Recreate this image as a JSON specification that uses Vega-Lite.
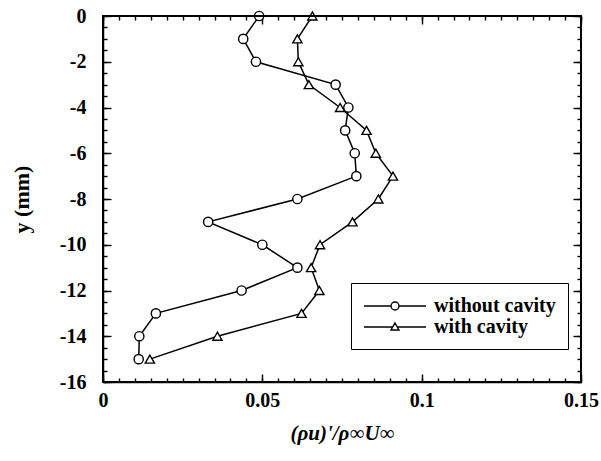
{
  "$schema": "https://vega.github.io/schema/vega-lite/v6.json",
  "width": 478,
  "height": 366,
  "autosize": {"type": "none"},
  "padding": {"left": 103, "top": 16, "right": 20, "bottom": 79},
  "background": "white",
  "config": {
    "view": {"stroke": "black", "strokeWidth": 1.5},
    "font": "Liberation Serif"
  },
  "data": {
    "values": [
      {"x": 0.049, "y": 0, "series": "without cavity"},
      {"x": 0.044, "y": -1, "series": "without cavity"},
      {"x": 0.048, "y": -2, "series": "without cavity"},
      {"x": 0.073, "y": -3, "series": "without cavity"},
      {"x": 0.077, "y": -4, "series": "without cavity"},
      {"x": 0.076, "y": -5, "series": "without cavity"},
      {"x": 0.079, "y": -6, "series": "without cavity"},
      {"x": 0.0795, "y": -7, "series": "without cavity"},
      {"x": 0.061, "y": -8, "series": "without cavity"},
      {"x": 0.033, "y": -9, "series": "without cavity"},
      {"x": 0.05, "y": -10, "series": "without cavity"},
      {"x": 0.061, "y": -11, "series": "without cavity"},
      {"x": 0.0435, "y": -12, "series": "without cavity"},
      {"x": 0.0166, "y": -13, "series": "without cavity"},
      {"x": 0.0114, "y": -14, "series": "without cavity"},
      {"x": 0.0112, "y": -15, "series": "without cavity"},
      {"x": 0.0657, "y": 0, "series": "with cavity"},
      {"x": 0.061, "y": -1, "series": "with cavity"},
      {"x": 0.0613, "y": -2, "series": "with cavity"},
      {"x": 0.0646, "y": -3, "series": "with cavity"},
      {"x": 0.0744, "y": -4, "series": "with cavity"},
      {"x": 0.0827, "y": -5, "series": "with cavity"},
      {"x": 0.0856, "y": -6, "series": "with cavity"},
      {"x": 0.091, "y": -7, "series": "with cavity"},
      {"x": 0.0864, "y": -8, "series": "with cavity"},
      {"x": 0.0783, "y": -9, "series": "with cavity"},
      {"x": 0.0681, "y": -10, "series": "with cavity"},
      {"x": 0.0653, "y": -11, "series": "with cavity"},
      {"x": 0.0679, "y": -12, "series": "with cavity"},
      {"x": 0.0623, "y": -13, "series": "with cavity"},
      {"x": 0.0359, "y": -14, "series": "with cavity"},
      {"x": 0.0147, "y": -15, "series": "with cavity"}
    ]
  },
  "layer": [
    {
      "mark": {"type": "line", "color": "black", "strokeWidth": 1.5},
      "encoding": {
        "x": {"field": "x", "type": "quantitative", "scale": {"domain": [0, 0.15], "nice": false, "zero": false},
          "axis": {"orient": "bottom", "values": [0, 0.05, 0.1, 0.15], "gridOpacity": 0, "tickSize": 0, "tickOpacity": 0, "domainColor": "black", "domainWidth": 1.5, "labelExpr": "'' + datum.value", "labelColor": "black", "labelFont": "Liberation Serif", "labelFontSize": 20, "labelFontWeight": "bold", "labelPadding": 8, "labelFlush": false,
            "title": "(ρu)'/ρ∞U∞", "titleColor": "black", "titleFont": "Liberation Serif", "titleFontSize": 21, "titleFontWeight": "bold", "titleFontStyle": "italic", "titlePadding": 12}},
        "y": {"field": "y", "type": "quantitative", "scale": {"domain": [-16, 0], "nice": false, "zero": false},
          "axis": {"orient": "left", "values": [-16, -14, -12, -10, -8, -6, -4, -2, 0], "gridOpacity": 0, "tickSize": 0, "tickOpacity": 0, "domainColor": "black", "domainWidth": 1.5, "labelExpr": "'' + datum.value", "labelColor": "black", "labelFont": "Liberation Serif", "labelFontSize": 20, "labelFontWeight": "bold", "labelPadding": 17, "labelFlush": false,
            "title": "y (mm)", "titleColor": "black", "titleFont": "Liberation Serif", "titleFontSize": 22, "titleFontWeight": "bold", "titlePadding": 26}},
        "detail": {"field": "series"},
        "order": {"field": "y", "type": "quantitative", "sort": "descending"}
      }
    },
    {
      "mark": {"type": "point", "filled": true, "fill": "white", "stroke": "black", "strokeWidth": 1.4, "size": 85, "opacity": 1},
      "encoding": {
        "x": {"field": "x", "type": "quantitative", "scale": {"domain": [0, 0.15], "nice": false, "zero": false},
          "axis": {"orient": "top", "gridOpacity": 0, "tickSize": 8, "offset": -8, "tickColor": "black", "tickWidth": 1.4, "values": [0, 0.05, 0.1, 0.15], "domainOpacity": 0, "labels": false, "title": null}},
        "y": {"field": "y", "type": "quantitative", "scale": {"domain": [-16, 0], "nice": false, "zero": false},
          "axis": {"orient": "right", "gridOpacity": 0, "tickSize": 8, "offset": -8, "tickColor": "black", "tickWidth": 1.4, "values": [-16, -14, -12, -10, -8, -6, -4, -2, 0], "domainOpacity": 0, "labels": false, "title": null}},
        "shape": {"field": "series", "type": "nominal",
          "scale": {"domain": ["without cavity", "with cavity"], "range": ["circle", "triangle-up"]},
          "legend": null}
      }
    },
    {
      "mark": {"type": "point", "filled": true, "color": "black", "fill": "white", "stroke": "black", "opacity": 0},
      "encoding": {
        "x": {"field": "x", "type": "quantitative", "scale": {"domain": [0, 0.15], "nice": false, "zero": false},
          "axis": {"orient": "bottom", "gridOpacity": 0, "tickSize": 8, "offset": -8, "tickColor": "black", "tickWidth": 1.4, "values": [0, 0.05, 0.1, 0.15], "domainOpacity": 0, "labels": false, "title": null}},
        "y": {"field": "y", "type": "quantitative", "scale": {"domain": [-16, 0], "nice": false, "zero": false},
          "axis": {"orient": "left", "gridOpacity": 0, "tickSize": 8, "offset": -8, "tickColor": "black", "tickWidth": 1.4, "values": [-16, -14, -12, -10, -8, -6, -4, -2, 0], "domainOpacity": 0, "labels": false, "title": null}},
        "shape": {"field": "series", "type": "nominal",
          "scale": {"domain": ["without cavity", "with cavity"], "range": ["M-3.1,0L-0.4,0M0.4,0L3.1,0M-0.4,0A0.4,0.4,0,1,1,0.4,0A0.4,0.4,0,1,1,-0.4,0Z", "M-3.1,0L-0.23,0M0.23,0L3.1,0M0,-0.4L0.4,0.3L-0.4,0.3Z"]},
          "legend": {"orient": "none", "legendX": 248, "legendY": 267, "title": null, "strokeColor": "black", "fillColor": "white", "padding": 12,
            "labelFont": "Liberation Serif", "labelFontSize": 20, "labelFontWeight": "bold", "labelColor": "black", "labelOffset": 28, "symbolOffset": 21,
            "rowPadding": -6, "symbolSize": 400, "symbolStrokeWidth": 1.4,
            "encode": {"symbols": {"opacity": {"value": 1}, "size": {"value": 400}, "fill": {"value": "white"}, "stroke": {"value": "black"}, "strokeWidth": {"value": 1.4}}}}}
      }
    },
    {
      "mark": {"type": "point", "opacity": 0},
      "encoding": {
        "x": {"field": "x", "type": "quantitative", "scale": {"domain": [0, 0.15], "nice": false, "zero": false},
          "axis": {"orient": "bottom", "gridOpacity": 0, "tickSize": 4, "offset": -4, "tickColor": "black", "tickWidth": 1.4, "values": [0, 0.005, 0.01, 0.015, 0.02, 0.025, 0.03, 0.035, 0.04, 0.045, 0.05, 0.055, 0.06, 0.065, 0.07, 0.075, 0.08, 0.085, 0.09, 0.095, 0.1, 0.105, 0.11, 0.115, 0.12, 0.125, 0.13, 0.135, 0.14, 0.145, 0.15], "domainOpacity": 0, "labels": false, "title": null}},
        "y": {"field": "y", "type": "quantitative", "scale": {"domain": [-16, 0], "nice": false, "zero": false},
          "axis": {"orient": "left", "gridOpacity": 0, "tickSize": 4, "offset": -4, "tickColor": "black", "tickWidth": 1.4, "values": [-16, -15.5, -15, -14.5, -14, -13.5, -13, -12.5, -12, -11.5, -11, -10.5, -10, -9.5, -9, -8.5, -8, -7.5, -7, -6.5, -6, -5.5, -5, -4.5, -4, -3.5, -3, -2.5, -2, -1.5, -1, -0.5, 0], "domainOpacity": 0, "labels": false, "title": null}}
      }
    },
    {
      "mark": {"type": "point", "opacity": 0},
      "encoding": {
        "x": {"field": "x", "type": "quantitative", "scale": {"domain": [0, 0.15], "nice": false, "zero": false},
          "axis": {"orient": "top", "gridOpacity": 0, "tickSize": 4, "offset": -4, "tickColor": "black", "tickWidth": 1.4, "values": [0, 0.005, 0.01, 0.015, 0.02, 0.025, 0.03, 0.035, 0.04, 0.045, 0.05, 0.055, 0.06, 0.065, 0.07, 0.075, 0.08, 0.085, 0.09, 0.095, 0.1, 0.105, 0.11, 0.115, 0.12, 0.125, 0.13, 0.135, 0.14, 0.145, 0.15], "domainOpacity": 0, "labels": false, "title": null}},
        "y": {"field": "y", "type": "quantitative", "scale": {"domain": [-16, 0], "nice": false, "zero": false},
          "axis": {"orient": "right", "gridOpacity": 0, "tickSize": 4, "offset": -4, "tickColor": "black", "tickWidth": 1.4, "values": [-16, -15.5, -15, -14.5, -14, -13.5, -13, -12.5, -12, -11.5, -11, -10.5, -10, -9.5, -9, -8.5, -8, -7.5, -7, -6.5, -6, -5.5, -5, -4.5, -4, -3.5, -3, -2.5, -2, -1.5, -1, -0.5, 0], "domainOpacity": 0, "labels": false, "title": null}}
      }
    },
    {
      "mark": {"type": "rect", "filled": false, "stroke": "black", "strokeWidth": 1.6},
      "encoding": {
        "x": {"datum": 0, "type": "quantitative", "scale": {"domain": [0, 0.15], "nice": false, "zero": false}, "axis": null},
        "x2": {"datum": 0.15},
        "y": {"datum": -16, "type": "quantitative", "scale": {"domain": [-16, 0], "nice": false, "zero": false}, "axis": null},
        "y2": {"datum": 0}
      }
    }
  ],
  "resolve": {"scale": {"x": "independent", "y": "independent", "shape": "independent"}, "axis": {"x": "independent", "y": "independent"}}
}
